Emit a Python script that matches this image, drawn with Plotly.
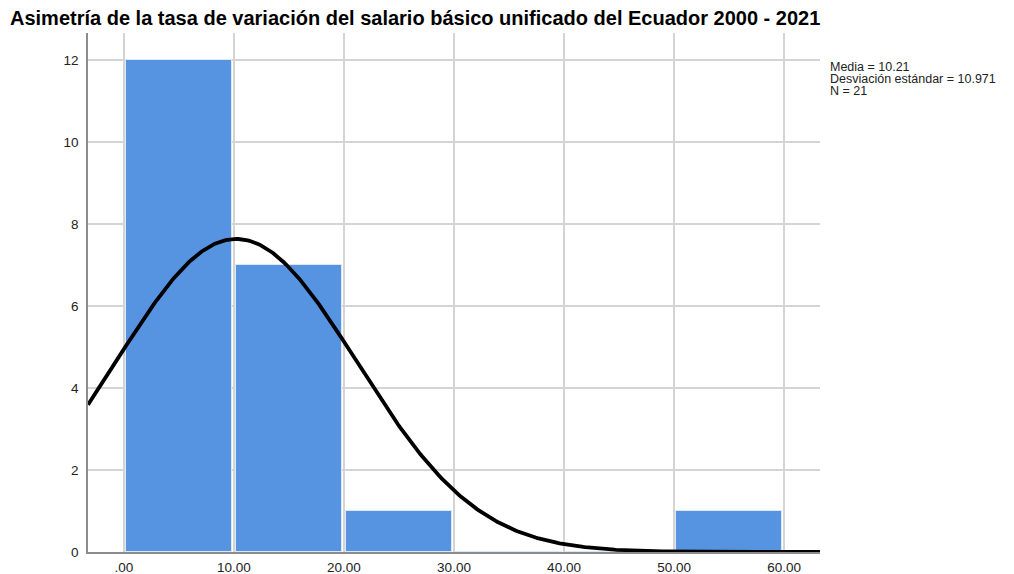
import numpy as np
import plotly.graph_objects as go

# Data
bin_starts = [0, 10, 20, 30, 40, 50]
counts = [12, 7, 1, 0, 0, 1]
bin_width = 10
mean = 10.21
std = 10.971
n = 21
x_ticks = [0, 10, 20, 30, 40, 50, 60]
x_tick_labels = [".00", "10.00", "20.00", "30.00", "40.00", "50.00", "60.00"]
y_ticks = [0, 2, 4, 6, 8, 10, 12]
stats_lines = [f"Media = {mean:.2f}", f"Desviación estándar = {std:.3f}", f"N = {n}"]

x_range = [-3.27, 63.27]
y_range = [0, 12.66]

centers = [s + bin_width / 2 for s in bin_starts]

# Normal curve scaled to counts (N * bin width * pdf)
xc = np.linspace(x_range[0], x_range[1], 400)
yc = n * bin_width / (std * np.sqrt(2 * np.pi)) * np.exp(-0.5 * ((xc - mean) / std) ** 2)

# The page body has an 8px margin, so the figure is drawn 8px in from the corner.
W, H = 1006, 566
ML, MR, MT, MB = 80, 194, 25, 22
plot_w = W - ML - MR
plot_h = H - MT - MB

fig = go.Figure()
fig.add_trace(go.Bar(
    x=centers, y=counts, width=bin_width * 0.955,
    marker=dict(color="#5694E2", line=dict(color="#dbe8f8", width=1)),
    hoverinfo="skip", showlegend=False,
))
fig.add_trace(go.Scatter(
    x=xc, y=yc, mode="lines",
    line=dict(color="#000000", width=3.8),
    hoverinfo="skip", showlegend=False,
))

fig.update_layout(
    width=W, height=H,
    margin=dict(l=ML, r=MR, t=MT, b=MB),
    paper_bgcolor="white", plot_bgcolor="white",
    font=dict(family="Liberation Sans, Arial, sans-serif", size=13, color="#222222"),
    title=dict(
        text="<b>Asimetría de la tasa de variación del salario básico unificado del Ecuador 2000 - 2021</b>",
        x=2 / W, xanchor="left", y=1 - 10 / H, yanchor="middle",
        font=dict(size=20, color="#000000"),
    ),
    bargap=0,
)
fig.update_xaxes(
    range=x_range, tickvals=x_ticks, ticktext=x_tick_labels, automargin=False,
    showgrid=True, gridcolor="#d4d4d4", gridwidth=1.5,
    zeroline=False, showline=True, linecolor="#8c8c8c", linewidth=1.5,
    ticks="outside", ticklen=2, tickcolor="rgba(0,0,0,0)",
    tickfont=dict(size=13.5, color="#222222"),
)
fig.update_yaxes(
    range=y_range, tickvals=y_ticks, automargin=False,
    showgrid=True, gridcolor="#d4d4d4", gridwidth=1.5,
    zeroline=False, showline=True, linecolor="#8c8c8c", linewidth=1.5,
    ticks="outside", ticklen=5, tickcolor="rgba(0,0,0,0)",
    tickfont=dict(size=13.5, color="#222222"),
)

for i, line in enumerate(stats_lines):
    fig.add_annotation(
        xref="paper", yref="paper",
        x=(820 - ML) / plot_w, y=(H - MB - (59 + 12 * i)) / plot_h,
        xanchor="left", yanchor="middle",
        text=line, showarrow=False, align="left",
        font=dict(size=12.5, color="#222222", family="Liberation Sans, Arial, sans-serif"),
    )

fig.write_html("out.html")
